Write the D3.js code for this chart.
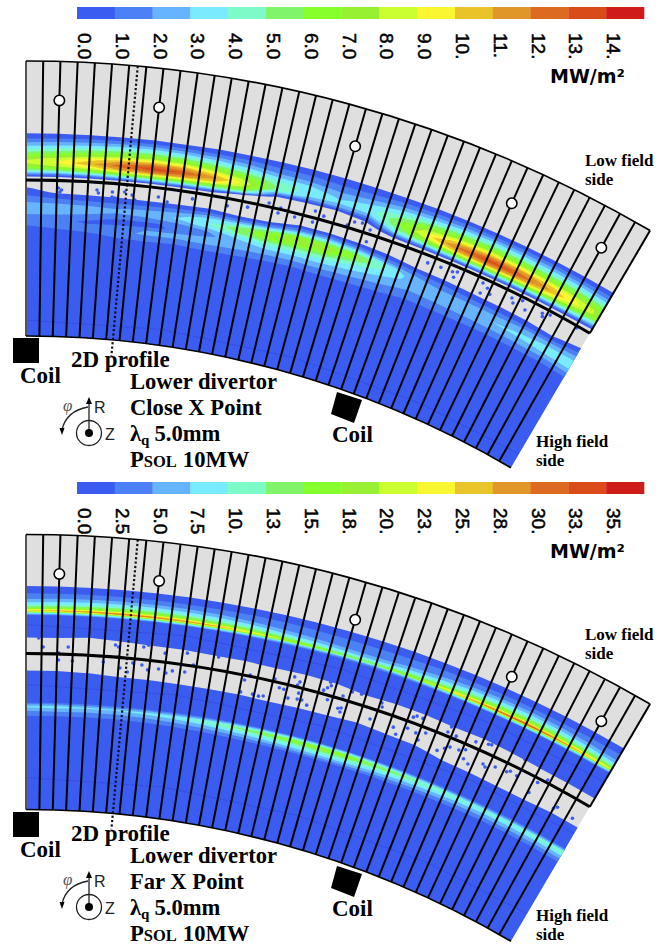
<!DOCTYPE html>
<html>
<head>
<meta charset="utf-8">
<script src="https://cdn.jsdelivr.net/npm/d3@7"></script>
<style>
html, body { margin: 0; background: #fff; }
svg { display: block; }
</style>
</head>
<body>
<svg width="667" height="947"></svg>
<script>
// colour bar
var bandColors = ["#3a5cf0","#4c80f5","#66b4ff","#78ebff","#7cfac8","#80f56a","#86ff2c","#98f032",
                  "#ccff30","#fbf632","#e8c428","#e09628","#dc6a20","#d94c1a","#d01c18"];
var levelsClose = [0,1,2,3,4,5,6,7,8,9,10,11,12,13,14];
var levelsFar = [0,2.5,5,7.5,10,12.5,15,17.5,20,22.5,25,27.5,30,32.5,35];
var labelsClose = ["0.0","1.0","2.0","3.0","4.0","5.0","6.0","7.0","8.0","9.0","10.","11.","12.","13.","14."];
var labelsFar = ["0.0","2.5","5.0","7.5","10.","13.","15.","18.","20.","23.","25.","28.","30.","33.","35."];

// tile stations along the toroidal direction
var stations = [0,2,4,6,8,10,12,14,16,18,20,22,24,26,28,30,32,34,36,38];

// heat flux read per station (one line) across the radii, -1 = no flux (grey)
var radiiClose = [1164,1160,1156,1152,1148,1144,1140,1136,1132,1128,1124,1120,1116,1110,1106,1102,1098,1094,1090,1086,1082,1078,1074,1070,1066,1062,1056,1040,958];
var heatClose = [
[-1,.2,.9,1.9,3.1,4.3,6,7.6,8.4,7.2,4.8,1.6,-1, -1,.2,.6,1.1,1.6,2.4,2.6,2.3,1.7,1.3,1.1,.8,.6,.4,.3,.2],
[-1,.2,1,2.1,3.3,4.8,6.5,8.3,9.2,8,5.2,1.7,-1, -1,-1,-.2,.7,1.3,2.2,2.5,2.4,1.6,1.2,1.3,1,.7,.4,.2,.2],
[-1,.2,1.1,2.3,3.8,5.5,7.4,9.6,10.8,9.2,6,2,-1, -1,-1,-.3,.5,1.1,2,2.3,2.1,1.3,.9,1.1,1.3,.8,.4,.2,.2],
[-1,.2,1.2,2.6,4.3,6.2,8.5,11,12.6,11,7,2.4,-1, -1,-1,-.4,.4,1,1.9,2.2,1.6,.9,.8,1.5,1.8,1.2,.6,.3,.2],
[-1,.2,1.2,2.7,4.5,6.6,9,11.8,13.6,11.8,7.5,2.6,-1, -1,-1,-.5,.3,1.1,2.1,2.6,1.7,.9,.8,2,2.1,1.4,.6,.3,.2],
[-1,.1,1.1,2.5,4.2,6.3,8.7,11.3,13,11.2,7,2.3,-1, -1,-1,-.4,.4,1.4,2.6,3.1,2.2,1.1,1.1,2.2,2,1.2,.6,.3,.2],
[-1,.2,1,2.2,3.6,5.3,7.4,9.7,11.3,10,6.4,2,-1, -1,-1,-.3,.6,2,3.5,4,3.2,1.9,1.7,2.5,2.2,1.4,.7,.3,.2],
[-1,.1,.9,1.8,2.9,4.3,6,7.7,8.6,7.6,4.8,-.5,-1, -1,-1,-.6,.1,1.6,4,5.6,5,3.4,2.5,2.4,2.1,1.3,.7,.3,.2],
[-1,.1,.7,1.4,2.1,3.2,4.3,4.8,4.6,1.5,-1,-1,-1, -1,-1,-1,.5,2.2,5.3,7,6.2,4.6,3.5,2.6,1.9,1.2,.6,.3,.2],
[-1,.1,.7,1.3,2,3,3.8,3.6,2.8,.6,-1,-1,-1, -1,-1,.4,1.8,4.5,7.6,8,6,4.4,3.4,2.5,1.8,1.1,.5,.3,.2],
[-1,.1,.6,1.1,1.7,2.2,2.8,3.2,2.6,.3,-1,-1,-1, -1,-1,.5,2.1,4.6,7.4,7.6,5.8,4.4,3.4,2.6,1.9,1.2,.5,.3,.2],
[-1,.1,.6,1.2,1.9,2.7,3.5,3.6,2.7,1,-.2,-1,-1, -1,-1,.1,1.4,3.6,6.2,6,4.6,3.6,3,2.4,1.7,1.1,.5,.3,.2],
[-1,.1,.8,1.6,2.7,3.7,4.8,5.7,6,5.2,3.4,.9,-1, -1,-1,-.3,.6,2,3.8,4.2,3.6,3,2.5,2,1.5,1,.5,.3,.2],
[-1,.2,1,2,3.3,4.9,6.6,8.5,9.6,8,5.2,1.6,-1, -1,-1,-.7,-.1,1,2,2.6,2.7,2.3,2,1.6,1.1,.8,.4,.2,.2],
[-1,.2,1.2,2.4,4,6,8.2,10.6,12.2,10.6,6.6,2.1,-1, -1,-1,-1,-.3,.7,1.3,2,2.6,2.7,2.2,1.7,1.2,.8,.4,.2,.2],
[-1,.2,1.2,2.7,4.4,6.5,8.9,11.6,13.4,11.4,7.2,2.3,-1, -1,-1,-1,-.5,.3,1,1.9,2.5,2.8,2.4,1.8,1.2,.8,.4,.2,.2],
[-1,.2,1.2,2.6,4.3,6.3,8.7,11.4,13,11,6.8,2.1,-1, -1,-1,-1,-.6,.2,.9,1.8,2.6,3,2.6,1.9,1.2,.7,.3,.2,.2],
[-1,.2,1.2,2.5,4,5.8,8,10.4,11.5,9.7,6,1.8,-1, -1,-1,-1,-.7,.1,.8,2,2.8,3.2,2.8,2,1.3,.7,.3,.2,.2],
[-1,.2,1.1,2.3,3.7,5.4,7.4,9.2,9.5,7.8,4.8,1.4,-1, -1,-1,-1,-.8,-.2,.7,2,3,3.5,3,2.1,1.3,.6,.3,.2,.2],
[-1,.2,1,2,3.2,4.8,6.4,7.6,7.6,6,3.6,.8,-1, -1,-1,-1,-.3,.6,1.3,2.2,3,3.8,3.3,2.4,1.5,.8,.3,.2,.2]
];

var radiiFar = [1186,1180,1176,1172,1168,1164,1160,1157,1155,1152,1140,1132,1128,1124,1100,1096,1092,1088,1072,1066,1063,1061,1058,1055,1052,1048,958];
var heatFar = [
[-1,.3,1.8,3.4,5.2,8.6,14.3,26,10.4,.5,.3, .4,-.4,-1, -1,.3,.4,.4, .4,.8,5.2,8,5.8,4,2.6,.7,.3],
[-1,.3,1.8,3.4,5.6,9.2,15.4,28,11.2,.5,.3, .4,-.4,-1, -1,.3,.4,.4, .4,.9,5.5,8.5,6.1,4.2,2.7,.7,.3],
[-1,.3,1.8,3.4,6,9.9,16.5,30,12,.5,.3, .1,-1,-1, -1,.02,.4,.4, .4,.8,5.2,8,5.8,4,2.6,.7,.3],
[-1,.3,1.8,3.4,6.3,10.4,17.3,31.5,12.6,.5,.3, .4,-.4,-1, -1,-.3,.4,.4, .4,.9,5.1,8,5.7,4,2.5,.7,.3],
[-1,.3,1.8,3.4,6.2,10.2,17,31,12.4,.5,.3, .4,-.1,-1, -1,-.3,.4,.4, .4,.9,5.5,8.5,6.1,4.3,2.7,.7,.3],
[-1,.3,1.8,3.4,6,9.9,16.5,30,12,.5,.3, .4,-.1,-1, -1,-.5,.4,.4, .4,1,6.2,9.5,6.8,4.8,3,.8,.3],
[-1,.3,1.8,3.4,5.6,9.2,15.4,28,11.2,.5,.3, .4,.02,-1, -1,-.5,.4,.4, .4,1.1,7.2,11,7.9,5.5,3.5,.9,.3],
[-1,.3,1.8,3.4,5,8.3,13.8,25,10,.5,.3, .4,.02,-1, -1,-.5,.4,.4, .4,1.3,8.5,13,9.4,6.5,4.2,1,.3],
[-1,.3,1.8,3.4,4.2,6.9,11.6,21,8.4,.5,.3, .4,.2,-1, -1,-.9,.4,.4, .4,1.5,9.8,15,10.8,7.5,4.8,1.2,.3],
[-1,.3,1.8,3,3.6,5.9,9.9,18,7.2,.5,.3, .4,.02,-1, -1,-.5,.4,.4, .4,1.7,11,17,12.2,8.5,5.4,1.4,.3],
[-1,.3,1.8,2.8,3.4,5.2,8.5,15.5,6.2,.5,.3, .4,.2,-1, -1,-.3,.4,.4, .4,1.8,11.7,18,13,9,5.8,1.4,.3],
[-1,.3,1.8,2.8,3.3,5,8.3,15,6,.5,.3, .4,.4,-.1, -1,.02,.4,.4, .4,1.8,11.4,17.5,12.6,8.8,5.6,1.4,.3],
[-1,.3,1.8,3,3.7,6.1,10.2,18.5,7.4,.5,.3, .4,.4,-.4, -1,-.3,.4,.4, .4,1.5,9.8,15,10.8,7.5,4.8,1.2,.3],
[-1,.3,1.8,3.4,4.6,7.6,12.7,23,9.2,.5,.3, .4,.4,-.4, -1,-.5,.4,.4, .4,1.4,8.8,13.5,9.7,6.8,4.3,1.1,.3],
[-1,.3,1.8,3.4,5.6,9.2,15.4,28,11.2,.5,.3, .4,.4,-.1, -1,-1,-.5,.4, .4,1.2,7.8,12,8.6,6,3.8,1,.3],
[-1,.3,1.8,3.4,6.4,10.6,17.6,32,12.8,.5,.3, .4,.4,-.4, -1,-1,-.8,.3, .4,1.1,7.2,11,7.9,5.5,3.5,.9,.3],
[-1,.3,1.8,3.4,6.7,11.1,18.4,33.5,13.4,.5,.3, .4,.4,-.1, -1,-1,-1,.1, .4,1.1,6.8,10.5,7.6,5.3,3.4,.8,.3],
[-1,.3,1.8,3.4,6.2,10.2,17,31,12.4,.5,.3, .4,.4,.02, -1,-1,-1,.1, .4,1.1,6.8,10.5,7.6,5.3,3.4,.8,.3],
[-1,.3,1.8,3.4,5.5,9.1,15.1,27.5,11,.5,.3, .4,.4,.02, -1,-1,-.5,.4, .4,1.1,7.2,11,7.9,5.5,3.5,.9,.3],
[-1,.3,1.8,3.4,4.6,7.6,12.7,23,9.2,.5,.3, .4,.4,.02, -1,-1,-.5,.4, .4,1.2,7.5,11.5,8.3,5.8,3.7,.9,.3]
];

// isolated flux spots in the shadowed strip: [tile k, radius]
var spotsClose = [[2.1,1106.5],[2.2,1102.5],[2.3,1104.6],[4.6,1106.3],[4.7,1103.4],[5.6,1105.4],[5.8,1099.6],[5.6,1100.4],
[6.4,1106.4],[6.9,1104],[7.1,1099.4],[8.6,1104.9],[9.2,1101],[10.8,1107.7],[13.1,1106.6],[14.4,1109.2],[15.7,1117.7],[16.4,1110],
[16.5,1115.5],[17.5,1110],[18.7,1120.9],[19.3,1118.2],[18.7,1109.5],[20.9,1116.2],[21.3,1121.3],[21.8,1122.5],[22.4,1118.2],[22.4,1105.9],
[26.6,1106.6],[27.5,1107.3],[28.3,1107.6],[28.6,1109.2],[28.5,1103],[30.4,1109.5],[30.8,1106.6],[30.5,1099.2],[31.1,1102],[32.5,1108.2],
[32.7,1104.2],[33.2,1110.5],[33.6,1103.3],[34.7,1108.4],[35.2,1110.4],[34.8,1105.4],[37.1,1112.1]];
var spotsFar = [[.8,1129.6],[1.1,1120.6],[2.7,1121.3],[2.1,1115],[5.7,1126],[5.9,1124.3],[7.5,1126.6],[7.8,1129],[5.9,1114.2],[8.9,1123],
[10.3,1126],[12.3,1127],[2.1,1108],[3,1107.5],[5,1108.2],[6.1,1103.5],[6.6,1100.1],[6.9,1109.6],[7.5,1108.6],[7.9,1104.3],[8.6,1106.4],
[9.1,1103.3],[9.5,1106.3],[10.3,1107],[10.8,1115],[14.5,1115.2],[14.2,1109.3],[16.1,1116.6],[17.3,1123.2],[17.7,1119.5],[17.6,1116.1],
[19.6,1127.3],[19.7,1124],[19.5,1121],[19.3,1117.7],[14.1,1096.8],[14.9,1097],[15.3,1096.3],[15.6,1097.4],[16.5,1109],[16.8,1108.7],
[17.8,1108.4],[17.2,1101],[17.8,1102.3],[18.1,1102.6],[18.5,1098.8],[19.7,1109.4],[20.5,1104.2],[20.7,1105.3],[20.7,1101.2],[20.6,1117.4],
[21.1,1124.1],[21.7,1124.6],[23.1,1122.5],[23.2,1118.7],[22.7,1103.5],[24.3,1103.3],[24.6,1097.4],[25.2,1107.1],[25.3,1119.5],[25.5,1121.8],
[25.9,1121.7],[25.8,1105.6],[26.4,1109.1],[26.1,1099.7],[27.7,1118.2],[27.8,1124.3],[28.3,1117.5],[27.5,1097],[27.9,1101.9],[28.2,1105],
[28.8,1105.8],[29.2,1108.6],[29.3,1099.5],[29.7,1096.5],[29.6,1120],[30.4,1122.9],[30.6,1123.7],[30.6,1102.7],[30.8,1100.8],[31.4,1105],
[32.2,1105.6],[32.4,1107.8],[32.9,1106.4],[32.9,1124.8],[34.3,1110],[34.8,1116.9],[34.1,1097.1],[36,1094.7],[36.2,1097.5],[37.4,1095.3]];

var tileCount = 38;
var pinTiles = [2,8,20,30,36];
var faintClose = [974];
var faintFar = [1143,1083,990];

var textClose = ["Close X Point"];
var textFar = ["Far X Point"];

var svg = d3.select("svg");

var rOuter = 1233, rInner = 958, rSep = 1114, rPin = 1194;
var tileAngle = d3.scaleLinear().domain([0, tileCount]).range([0, 0.5307]);
var spokes = d3.range(1, tileCount);
var arc = d3.arc();
var radial = d3.lineRadial().angle(d => tileAngle(d[0])).radius(d => d[1]);

function rim(list){
    // cell centres sit at i+.5 in d3.contours, the outer half cell keeps the end value
    return {
        domain: [0].concat(list.map((d, i) => i + .5), [list.length]),
        range: [list[0]].concat(list, [list[list.length - 1]])
    };
}

function drawBar(g, labels){
    var band = d3.scaleBand().domain(labels).range([77, 644]);
    g.selectAll("rect").data(labels).enter().append("rect")
        .attr("x", d => band(d))
        .attr("y", 7)
        .attr("width", band.bandwidth() + .3)
        .attr("height", 12)
        .attr("fill", (d, i) => bandColors[i]);
    var axis = g.append("g")
        .attr("transform", "translate(-11,33)")
        .call(d3.axisBottom(band).tickSize(0).tickPadding(0));
    axis.select(".domain").remove();
    axis.selectAll("text")
        .attr("x", 0).attr("y", 0).attr("dy", ".36em")
        .attr("transform", "rotate(90)")
        .attr("text-anchor", "start")
        .attr("fill", "#000")
        .attr("stroke", "#000").attr("stroke-width", .5)
        .style("font", "19px 'Liberation Sans'");
    g.append("text")
        .attr("x", 550).attr("y", 83)
        .style("font", "bold 19px 'DejaVu Sans'")
        .text("MW/m²");
}

function drawSector(g, radii, heat, levels, spots, faint){
    var heatColor = d3.scaleThreshold().domain(levels.slice(1)).range(bandColors);
    var rr = rim(radii), rk = rim(stations);
    var rowR = d3.scaleLinear().domain(rr.domain).range(rr.range);
    var rowK = d3.scaleLinear().domain(rk.domain).range(rk.range);

    g.append("path")
        .attr("d", arc({innerRadius: rInner, outerRadius: rOuter, startAngle: 0, endAngle: tileAngle(tileCount)}))
        .attr("fill", "#dfdfdf");

    var bands = d3.contours()
        .size([radii.length, stations.length])
        .thresholds(levels)(heat.flat());
    var toSector = d3.geoTransform({
        point: function(x, y){
            var a = tileAngle(rowK(y)), r = rowR(x);
            this.stream.point(r * Math.sin(a), -r * Math.cos(a));
        }
    });
    g.append("g").selectAll("path").data(bands).enter().append("path")
        .attr("d", d3.geoPath(toSector))
        .attr("fill", d => heatColor(d.value));

    g.selectAll(".faint").data(faint).enter().append("path")
        .attr("class", "faint")
        .attr("d", d => radial([[0, d], [10, d], [20, d], [30, d], [tileCount, d]]))
        .attr("fill", "none")
        .attr("stroke", "#2c3fe0").attr("stroke-width", .8).attr("opacity", .55);

    g.selectAll(".spot").data(spots).enter().append("circle")
        .attr("class", "spot")
        .attr("cx", d => d[1] * Math.sin(tileAngle(d[0])))
        .attr("cy", d => -d[1] * Math.cos(tileAngle(d[0])))
        .attr("r", 1.8)
        .attr("fill", "#3a5cf0");

    g.selectAll(".spoke").data(spokes).enter().append("path")
        .attr("class", "spoke")
        .attr("d", d => radial([[d, rInner], [d, rOuter]]))
        .attr("stroke", "#000").attr("stroke-width", 2);

    g.append("path")
        .attr("d", radial([[6.5, rOuter], [6.5, 942]]))
        .attr("stroke", "#111").attr("stroke-width", 2.2).attr("stroke-dasharray", "2.2 2.2");

    g.append("path")
        .attr("d", radial([[0, rInner], [0, rOuter]]))
        .attr("stroke", "#555").attr("stroke-width", 2);
    g.append("path")
        .attr("d", radial([[tileCount, rSep], [tileCount, rOuter]]))
        .attr("stroke", "#000").attr("stroke-width", 2);

    [rOuter, rInner].forEach(r => {
        g.append("path")
            .attr("d", arc({innerRadius: r, outerRadius: r, startAngle: 0, endAngle: tileAngle(tileCount)}))
            .attr("fill", "none").attr("stroke", "#000").attr("stroke-width", 1.7);
    });
    g.append("path")
        .attr("d", arc({innerRadius: rSep - 1.5, outerRadius: rSep + 1.5, startAngle: 0, endAngle: tileAngle(tileCount)}))
        .attr("fill", "#000");

    g.selectAll(".pin").data(pinTiles).enter().append("circle")
        .attr("class", "pin")
        .attr("cx", d => rPin * Math.sin(tileAngle(d)))
        .attr("cy", d => -rPin * Math.cos(tileAngle(d)))
        .attr("r", 5.2)
        .attr("fill", "#fff").attr("stroke", "#000").attr("stroke-width", 1.6);
}

function serif(g, x, y, size, str){
    return g.append("text")
        .attr("x", x).attr("y", y)
        .style("font", "bold " + size + "px 'Liberation Serif'")
        .text(str);
}

function drawNotes(g, mode){
    g.append("rect").attr("x", 13).attr("y", 338).attr("width", 26).attr("height", 25);
    g.append("path").attr("d", "M337,392L362,400L354,423L331,414Z");

    serif(g, 71, 367, 23, "2D profile");
    serif(g, 20, 383, 23, "Coil");
    serif(g, 332, 442, 23, "Coil");
    serif(g, 130, 389, 22.6, "Lower divertor");
    serif(g, 130, 415, 22.6, mode);

    var lambda = serif(g, 130, 441, 22.6, "λ");
    lambda.append("tspan").attr("dy", 4).style("font-size", "15px").text("q");
    lambda.append("tspan").attr("dy", -4).attr("dx", 5).text("5.0mm");

    var psol = serif(g, 130, 467, 22.6, "P");
    psol.append("tspan").style("font-size", "16.5px").text("SOL");
    psol.append("tspan").attr("dx", 6).text("10MW");

    serif(g, 585, 166, 17, "Low field");
    serif(g, 585, 185, 17, "side");
    serif(g, 536, 447, 17, "High field");
    serif(g, 536, 466, 17, "side");

    // R, Z, phi direction sketch
    var c = g.append("g").attr("fill", "none").attr("stroke", "#222").attr("stroke-width", 1.3);
    c.append("circle").attr("cx", 89).attr("cy", 433).attr("r", 12.5);
    c.append("path").attr("d", "M89,433V400");
    c.append("path").attr("d", "M88,407Q66,411 62,430");
    g.append("circle").attr("cx", 89).attr("cy", 433).attr("r", 4).attr("fill", "#000");
    g.append("path").attr("d", "M89,397L86,404H92Z").attr("fill", "#000");
    g.append("path").attr("d", "M62,435L59.5,428H64.5Z").attr("fill", "#000");
    g.append("text").attr("x", 94).attr("y", 413).style("font", "16px 'Liberation Sans'").attr("fill", "#222").text("R");
    g.append("text").attr("x", 105).attr("y", 440).style("font", "16px 'Liberation Sans'").attr("fill", "#222").text("Z");
    g.append("text").attr("x", 63).attr("y", 411).style("font", "italic 17px 'Liberation Serif'").attr("fill", "#555").text("φ");
}

function drawPanel(dy, labels, radii, heat, levels, spots, faint, mode){
    drawBar(svg.append("g").attr("transform", "translate(0," + (dy ? dy + 1 : 0) + ")"), labels);
    drawSector(svg.append("g").attr("transform", "translate(26," + (1294 + (dy ? dy - .5 : 0)) + ")"),
        radii, heat, levels, spots, faint);
    drawNotes(svg.append("g").attr("transform", "translate(0," + dy + ")"), mode);
}

drawPanel(0, labelsClose, radiiClose, heatClose, levelsClose, spotsClose, faintClose, textClose[0]);
drawPanel(474, labelsFar, radiiFar, heatFar, levelsFar, spotsFar, faintFar, textFar[0]);
</script>
</body>
</html>
